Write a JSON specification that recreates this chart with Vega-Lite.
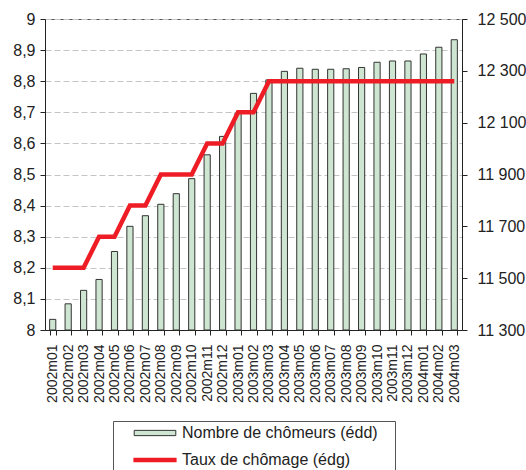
{
  "$schema": "https://vega.github.io/schema/vega-lite/v6.json",
  "width": 417,
  "height": 311,
  "autosize": "none",
  "padding": {"left": 45, "top": 19, "right": 64, "bottom": 140},
  "background": "white",
  "config": {
    "view": {"stroke": "#555", "strokeWidth": 1},
    "font": "Liberation Sans",
    "axis": {"labelFont": "Liberation Sans", "labelColor": "#222", "domainColor": "#222", "tickColor": "#222"},
    "legend": {"labelFont": "Liberation Sans", "labelFontSize": 16, "labelColor": "#222", "labelLimit": 400}
  },
  "data": {
    "values": [
      {"mois": "2002m01", "chomeurs": 11341, "taux": 8.2},
      {"mois": "2002m02", "chomeurs": 11401, "taux": 8.2},
      {"mois": "2002m03", "chomeurs": 11453, "taux": 8.2},
      {"mois": "2002m04", "chomeurs": 11495, "taux": 8.3},
      {"mois": "2002m05", "chomeurs": 11603, "taux": 8.3},
      {"mois": "2002m06", "chomeurs": 11700, "taux": 8.4},
      {"mois": "2002m07", "chomeurs": 11741, "taux": 8.4},
      {"mois": "2002m08", "chomeurs": 11785, "taux": 8.5},
      {"mois": "2002m09", "chomeurs": 11826, "taux": 8.5},
      {"mois": "2002m10", "chomeurs": 11884, "taux": 8.5},
      {"mois": "2002m11", "chomeurs": 11976, "taux": 8.6},
      {"mois": "2002m12", "chomeurs": 12047, "taux": 8.6},
      {"mois": "2003m01", "chomeurs": 12136, "taux": 8.7},
      {"mois": "2003m02", "chomeurs": 12213, "taux": 8.7},
      {"mois": "2003m03", "chomeurs": 12265, "taux": 8.8},
      {"mois": "2003m04", "chomeurs": 12298, "taux": 8.8},
      {"mois": "2003m05", "chomeurs": 12310, "taux": 8.8},
      {"mois": "2003m06", "chomeurs": 12306, "taux": 8.8},
      {"mois": "2003m07", "chomeurs": 12306, "taux": 8.8},
      {"mois": "2003m08", "chomeurs": 12308, "taux": 8.8},
      {"mois": "2003m09", "chomeurs": 12313, "taux": 8.8},
      {"mois": "2003m10", "chomeurs": 12333, "taux": 8.8},
      {"mois": "2003m11", "chomeurs": 12338, "taux": 8.8},
      {"mois": "2003m12", "chomeurs": 12338, "taux": 8.8},
      {"mois": "2004m01", "chomeurs": 12365, "taux": 8.8},
      {"mois": "2004m02", "chomeurs": 12391, "taux": 8.8},
      {"mois": "2004m03", "chomeurs": 12420, "taux": 8.8}
    ]
  },
  "layer": [
    {
      "mark": {"type": "bar", "stroke": "#333", "strokeWidth": 1},
      "encoding": {
        "x": {
          "field": "mois", "type": "ordinal", "sort": null,
          "scale": {"paddingInner": 0.6, "paddingOuter": 0.3},
          "axis": {"title": null, "labelAngle": -90, "tickBand": "extent", "tickSize": 5, "labelFontSize": 14, "labelPadding": 9, "grid": false}
        },
        "y": {
          "field": "chomeurs", "type": "quantitative",
          "scale": {"domain": [11300, 12500], "zero": false, "nice": false},
          "axis": {"orient": "right", "title": null, "grid": false, "values": [11300, 11500, 11700, 11900, 12100, 12300, 12500], "labelExpr": "replace(format(datum.value, ','), ',', ' ')", "labelFontSize": 16, "tickSize": 5, "labelPadding": 10}
        },
        "y2": {"datum": 11300},
        "fill": {
          "datum": "Nombre de chômeurs (édd)",
          "scale": {"range": ["#cde5d1"]},
          "legend": {
            "orient": "none", "legendX": 68, "legendY": 402, "title": null,
            "padding": 4, "symbolOffset": 30, "labelOffset": 19,
            "symbolSize": 64, "symbolType": "M-5.2,-0.66H5.2V0.66H-5.2Z",
            "symbolStrokeColor": "#333", "symbolStrokeWidth": 1, "symbolOpacity": 1
          }
        }
      }
    },
    {
      "mark": {"type": "line", "strokeWidth": 4.5, "strokeJoin": "miter"},
      "encoding": {
        "x": {
          "field": "mois", "type": "ordinal", "sort": null,
          "axis": {"title": null, "labelAngle": -90, "tickBand": "extent", "tickSize": 5, "labelFontSize": 14, "labelPadding": 9, "grid": false}
        },
        "y": {
          "field": "taux", "type": "quantitative",
          "scale": {"domain": [8, 9], "zero": false, "nice": false},
          "axis": {"orient": "left", "title": null, "grid": true, "gridDash": [6, 3], "gridColor": "#c4c4c4", "values": [8, 8.1, 8.2, 8.3, 8.4, 8.5, 8.6, 8.7, 8.8, 8.9, 9], "labelExpr": "replace(format(datum.value, '.1~f'), '.', ',')", "labelFontSize": 16, "tickSize": 5, "labelPadding": 5}
        },
        "stroke": {
          "datum": "Taux de chômage (édg)",
          "scale": {"range": ["#ee1c25"]},
          "legend": {
            "orient": "none", "legendX": 68, "legendY": 402,
            "title": "\u00a0", "titleFontSize": 16, "titlePadding": 11,
            "strokeColor": "#555", "padding": 4, "symbolOffset": 30, "labelOffset": 19,
            "symbolSize": 64, "symbolType": "M-5.4,0H5.4", "symbolStrokeWidth": 4.5, "symbolOpacity": 1,
            "labelExpr": "datum.label + '\u00a0\u00a0\u00a0\u00a0\u00a0\u00a0\u00a0\u00a0\u00a0\u200b'"
          }
        }
      }
    }
  ],
  "resolve": {"scale": {"y": "independent"}}
}
